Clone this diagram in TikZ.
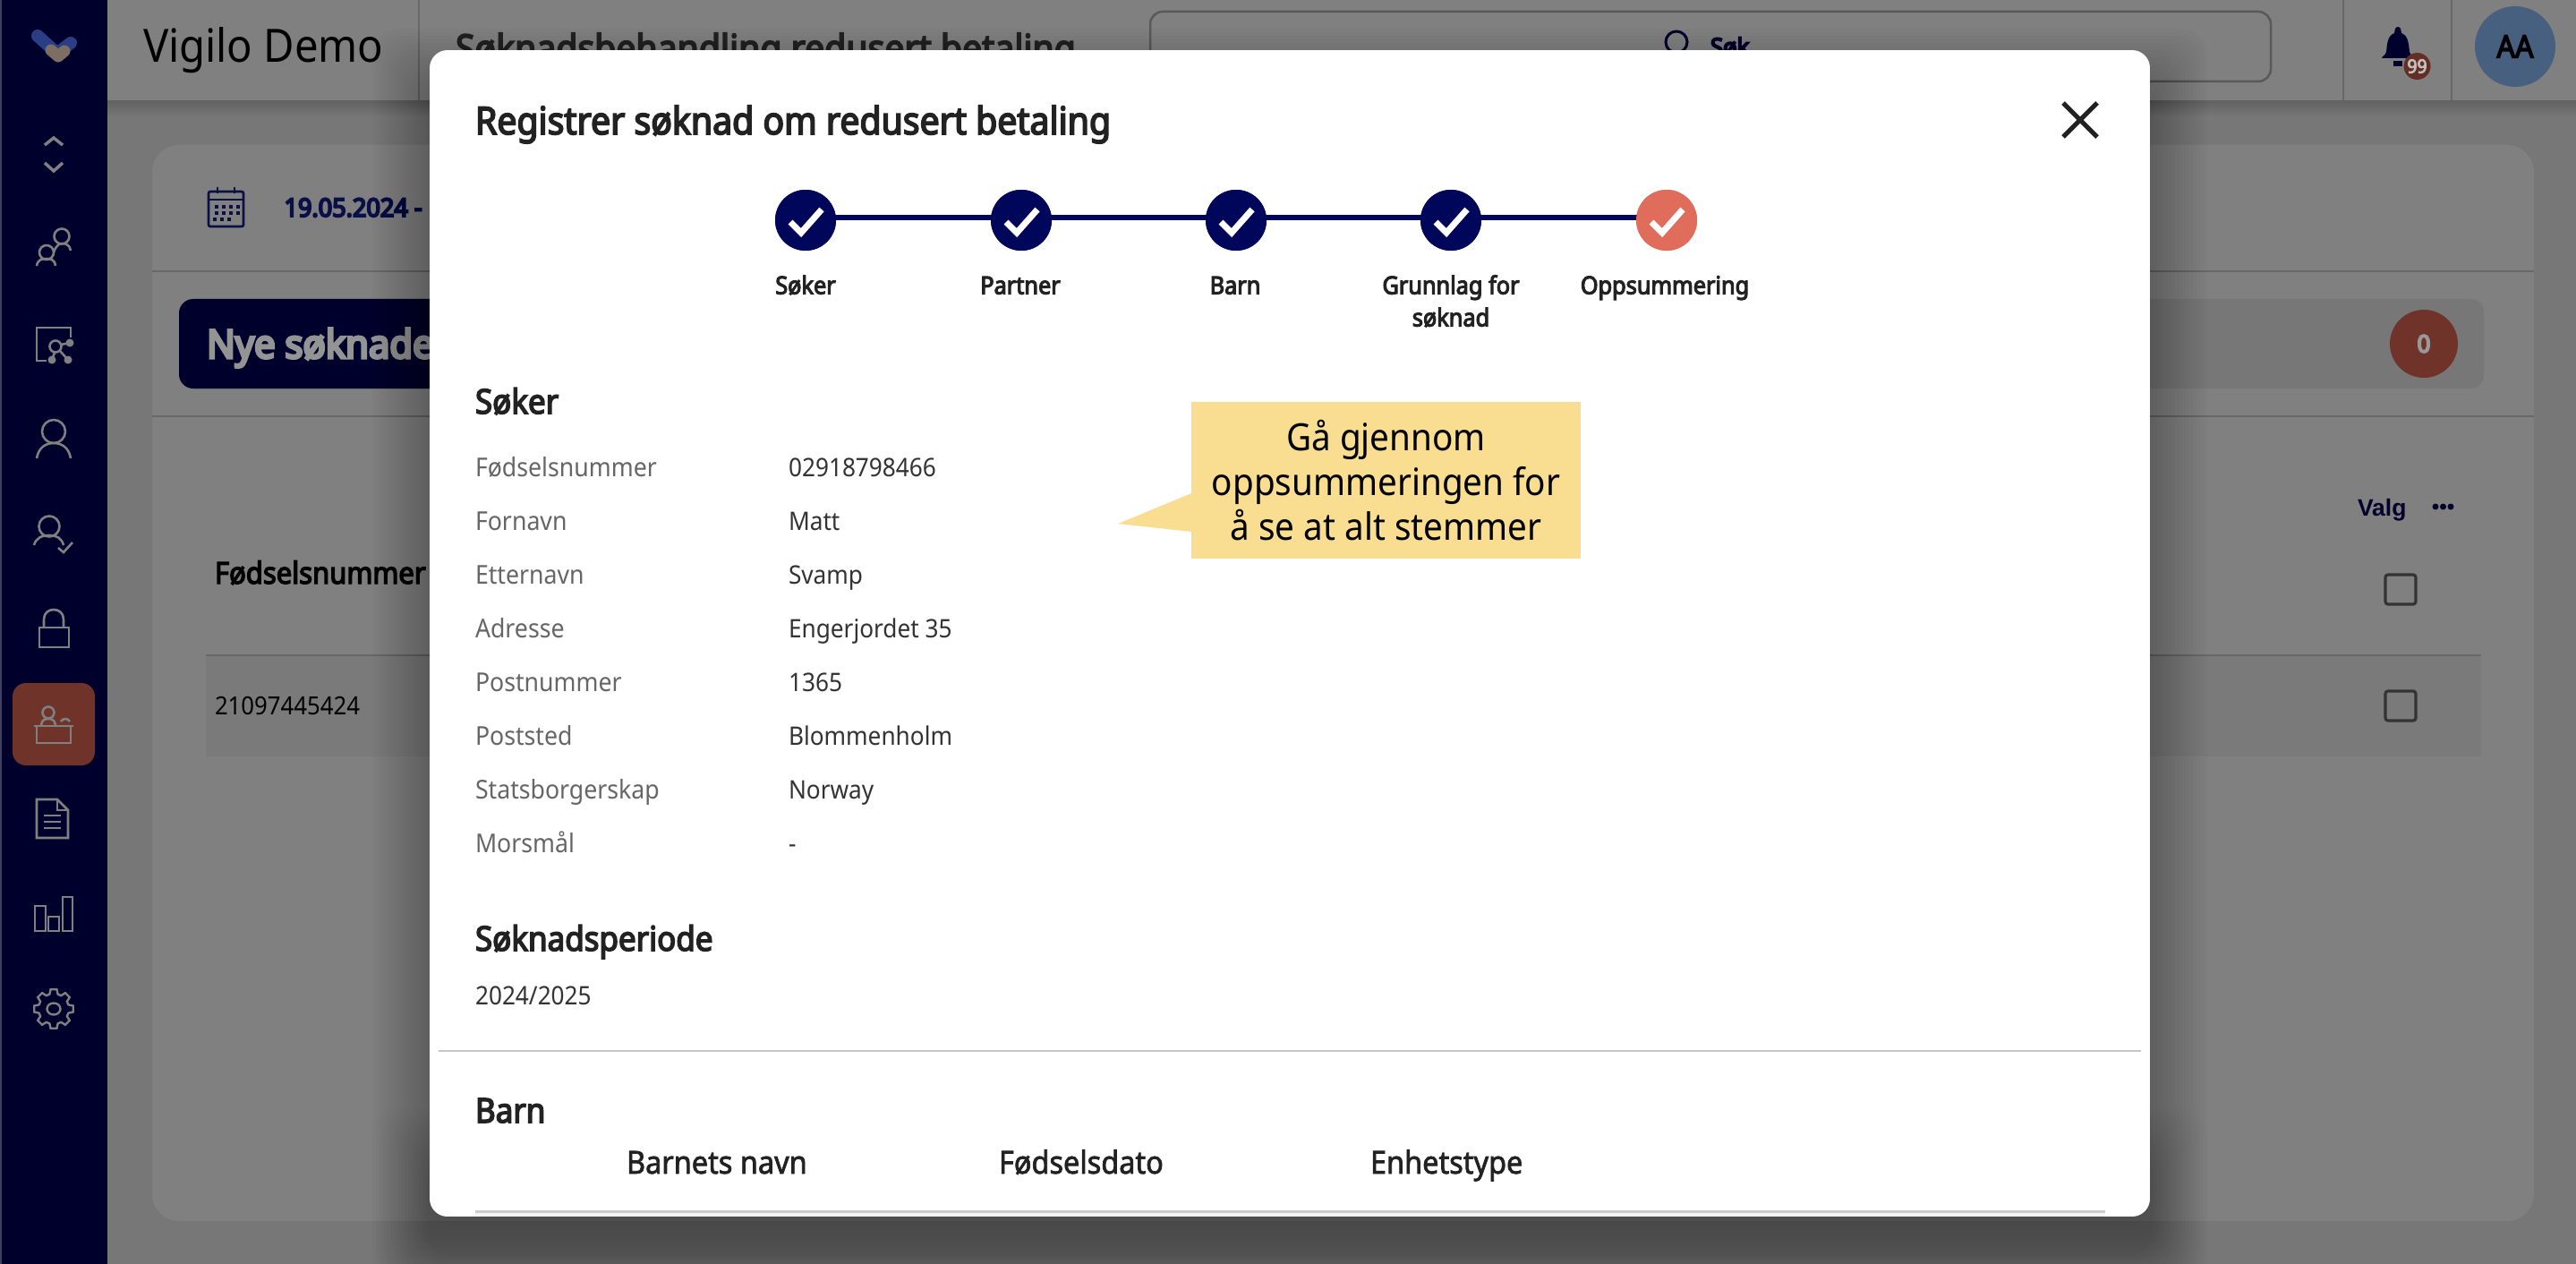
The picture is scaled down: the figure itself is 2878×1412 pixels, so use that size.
\documentclass[tikz,border=0pt]{standalone}
\usepackage{fontspec}
\setmainfont[FakeStretch=0.92]{Noto Sans}
\newfontfamily\medw[FakeStretch=0.92,FakeBold=2]{Noto Sans}
\newfontfamily\semi[FakeStretch=0.92,FakeBold=4]{Noto Sans}
\newfontfamily\heavy[FakeStretch=0.95,FakeBold=7]{Noto Sans}
\newfontfamily\arial{Liberation Sans}
\usetikzlibrary{calc}
\newcommand{\fs}[1]{\fontsize{#1}{#1}\selectfont}
\definecolor{pagebg}{HTML}{777777}
\definecolor{panelbg}{HTML}{808080}
\definecolor{side}{HTML}{00002C}
\definecolor{sidehi}{HTML}{6F3329}
\definecolor{icongrey}{HTML}{808080}
\definecolor{navy}{HTML}{00075A}
\definecolor{dimnavy}{HTML}{0A0F45}
\definecolor{coral}{HTML}{E06C5C}
\definecolor{note}{HTML}{F9DE92}
\definecolor{ink}{HTML}{222222}
\definecolor{lab}{HTML}{666666}
\definecolor{val}{HTML}{333333}
\definecolor{avatarblue}{HTML}{476080}
\definecolor{logoblue}{HTML}{2B3E85}
\definecolor{logobrown}{HTML}{7E6D63}
\definecolor{rule}{HTML}{686868}
\tikzset{
  x=1pt,y=-1pt,
  txt/.style={anchor=base west,inner sep=0pt,outer sep=0pt},
  ctxt/.style={anchor=base,inner sep=0pt,outer sep=0pt},
  icon/.style={draw=icongrey,line width=2.6pt,line cap=butt,line join=miter},
  stepdone/.style={circle,fill=navy,minimum size=68pt,inner sep=0pt},
  steplast/.style={circle,fill=coral,minimum size=68pt,inner sep=0pt},
  stepline/.style={draw=navy,line width=6pt},
  steplabel/.style={ctxt,font=\semi\fs{27.5},text=ink},
  tick/.style={draw=white,line width=7pt,line join=miter},
  rowlab/.style={txt,font=\fs{29},text=lab},
  rowval/.style={txt,font=\fs{28.5},text=val},
  heading/.style={txt,font=\semi\fs{38},text=ink},
  thead/.style={txt,font=\medw\fs{35.3},text=ink},
  checkbox/.style={draw=val,line width=3.2pt,rounded corners=3pt}
}
\begin{document}
\begin{tikzpicture}
\useasboundingbox (0,0) rectangle (2878,1412);
% page
\fill[pagebg] (0,0) rectangle (2878,1412);
\shade[top color=black!18!pagebg,bottom color=pagebg] (120,112) rectangle (2878,130);
\fill[panelbg,rounded corners=30pt] (170,162) rectangle (2831,1364);
\fill[panelbg] (120,0) rectangle (2878,112);
\draw[rule,line width=1.5pt] (468,0) -- (468,112) (2618,0) -- (2618,112) (2739,0) -- (2739,112);
\node[txt,font=\fs{51.3},text=black] (brand) at (160,70) {Vigilo Demo};
\node[txt,font=\semi\fs{42.6},text=ink] (pagetitle) at (509,69) {Søknadsbehandling redusert betaling};
% search
\draw[black!65,line width=2.5pt,rounded corners=14pt] (1285,13) rectangle (2537,91);
\draw[side,line width=3pt] (1873,47) circle[radius=12pt];
\node[txt,font=\heavy\fs{27},text=side] (search) at (1911,62) {Søk};
% bell
\fill[side] (2679,30) .. controls (2676,30) and (2675,34) .. (2675,37) .. controls (2667,40) and (2667,50) .. (2666,58) .. controls (2665,62) and (2661,63) .. (2661,65) -- (2697,65) .. controls (2697,63) and (2693,62) .. (2692,58) .. controls (2691,50) and (2691,40) .. (2683,37) .. controls (2683,34) and (2682,30) .. (2679,30) -- cycle;
\fill[side] (2674,68) rectangle (2684,74);
\node[circle,fill=sidehi!90!black,minimum size=30pt,inner sep=0pt,font=\semi\fs{21},text=black!25] (bellbadge) at (2700.5,74) {99};
\node[circle,fill=avatarblue,minimum size=90pt,inner sep=0pt,font=\semi\fs{35},text=black] (avatar) at (2810,52) {AA};
% panel content
\draw[rule,line width=2pt] (170,303) -- (2831,303) (170,465) -- (2831,465);
\node[txt,font=\heavy\fs{28.5},text=dimnavy] (date) at (317.5,242) {19.05.2024 -};
\draw[dimnavy,line width=2.6pt,rounded corners=2pt] (233,214) rectangle (272,253);
\draw[dimnavy,line width=2.6pt] (233,223) -- (272,223) (243,209) -- (243,216) (262,209) -- (262,216);
\foreach \cx in {242,250,258,266}{\fill[dimnavy] (\cx-2,229) rectangle (\cx+2,233);\fill[dimnavy] (\cx-2,236) rectangle (\cx+2,240);}
\foreach \cx in {240,248,256}{\fill[dimnavy] (\cx-2,243) rectangle (\cx+2,247);}
% tab bar
\fill[black!7!panelbg,rounded corners=14pt] (200,334) rectangle (2775,434);
\fill[side,rounded corners=16pt] (200,334) rectangle (700,434);
\node[txt,font=\heavy\fs{44},text=black!42] (tab) at (231,400) {Nye søknader};
\node[circle,fill=sidehi,minimum size=76pt,inner sep=0pt,font=\heavy\fs{27},text=black!40] (zero) at (2708,384) {0};
% table
\node[txt,font=\semi\fs{33.7},text=black] (colhead) at (240,652) {Fødselsnummer};
\fill[black!5!panelbg] (230,732) rectangle (2772,845);
\draw[rule,line width=1.5pt] (230,732) -- (2772,732);
\node[txt,font=\fs{28},text=black] (fnr) at (240,798) {21097445424};
\node[txt,font=\arial\bfseries\fs{26.5},text=side] (valg) at (2634,576) {Valg};
\foreach \dx in {2721,2729.5,2738}{\fill[side] (\dx,566) circle[radius=3.5pt];}
\draw[checkbox] (2665,642) rectangle (2699,675);
\draw[checkbox] (2665,772) rectangle (2699,805);
% sidebar
\fill[side] (0,0) rectangle (120,1412);
\fill[side!75!white] (0,0) rectangle (2,1412);
\fill[sidehi,rounded corners=15pt] (14,763) rectangle (106,855);
% logo
\draw[line width=14pt,line cap=round,draw=logoblue] (42,40) -- (62,58);
\draw[line width=14pt,line cap=round,draw=logoblue] (79,48) -- (66,58);
\draw[line width=13pt,line cap=round,line join=round,draw=logobrown] (57,56) -- (65,63) -- (72,57);
% chevrons
\draw[icon,line width=3.5pt] (50,162) -- (60,154) -- (70,162);
\draw[icon,line width=3.5pt] (50,182) -- (60,191) -- (70,182);
% people
\draw[icon] (69,264) circle[radius=8.5pt] (52,282) circle[radius=8pt];
\draw[icon] (41,297) .. controls (42,290) and (47,289) .. (52,289) .. controls (57,289) and (61,290) .. (62,297);
\draw[icon] (60,282) .. controls (63,273) and (67,272) .. (70,272) .. controls (74,272) and (78,274) .. (79,280);
% presentation
\draw[icon] (79,377) -- (79,366) -- (41,366) -- (41,403) -- (52,403);
\draw[icon] (62,387) circle[radius=6.5pt];
\draw[icon] (68,385) -- (78,383) (61,394) -- (58,402) (67,392) -- (76,402);
\fill[icongrey] (78,383) circle[radius=4.5pt] (58,402) circle[radius=4.5pt] (76,402) circle[radius=4.5pt];
% person
\draw[icon] (60,482) circle[radius=13pt];
\draw[icon] (41,512) .. controls (43,500) and (51,495) .. (60,495) .. controls (69,495) and (77,500) .. (79,512);
% person check
\draw[icon] (55,588) circle[radius=11.5pt];
\draw[icon] (38,609) .. controls (40,601) and (47,598) .. (55,598) .. controls (63,598) and (69,601) .. (71,609);
\draw[icon] (65,612) -- (71,617) -- (81,606);
% lock
\draw[icon] (49,701) -- (49,692) .. controls (49,685) and (54,681) .. (60,681) .. controls (66,681) and (71,685) .. (71,692) -- (71,701);
\draw[icon] (44,701) rectangle (77,723);
% desk
\draw[icon] (54,796) circle[radius=6.5pt];
\draw[icon] (46,810) .. controls (47,804) and (50,803) .. (54,803) .. controls (58,803) and (61,804) .. (62,810);
\draw[icon] (68,806) .. controls (70,802) and (76,802) .. (78,806);
\draw[icon] (38,811) -- (82,811) (41,811) -- (41,830) -- (79,830) -- (79,811);
% document
\draw[icon] (41,893) -- (64,893) -- (76,905) -- (76,936) -- (41,936) -- cycle;
\draw[icon,line width=2pt] (64,893) -- (64,905) -- (76,905);
\draw[icon,line width=2pt] (49,911) -- (68,911) (49,918) -- (68,918) (49,925) -- (68,925);
% bars
\draw[icon] (39,1012) rectangle (51,1040) (54,1024) rectangle (66,1040) (70,1002) rectangle (81,1040);
% gear
\draw[icon,line width=2.4pt,shift={(60,1127)}] (-9:22pt) foreach \a in {0,45,...,315} {-- (\a-9:22pt) -- (\a+9:22pt) -- (\a+16:17pt) -- (\a+29:17pt)} -- cycle;
\draw[icon,line width=2.4pt] (60,1127) ellipse[x radius=7.5pt,y radius=6.5pt];
% modal shadow
\foreach \e in {4,8,...,64}{\fill[black,opacity=.014,rounded corners=30pt] (480-\e,96-\e) rectangle (2402+\e,1399+\e);}
\foreach \e in {4,8,...,64}{\fill[black,opacity=.007,rounded corners=30pt] (480-\e,1300-\e) rectangle (2402+\e,1359+\e);}
% modal
\begin{scope}
\path[clip,rounded corners=20pt] (480,56) rectangle (2402,1359);
\fill[white] (480,56) rectangle (2402,1359);
\fill[black!4] (531,1353) rectangle (2352,1359);
\fill[black!20] (531,1352) rectangle (2352,1355);
\end{scope}
\node[txt,font=\semi\fs{42.6},text=ink] (title) at (531,150) {Registrer søknad om redusert betaling};
\draw[ink,line width=5pt] (2305,115) -- (2343,153) (2343,115) -- (2305,153);
% stepper
\node[stepdone] (s1) at (900,246) {};
\node[stepdone] (s2) at (1141,246) {};
\node[stepdone] (s3) at (1381,246) {};
\node[stepdone] (s4) at (1621,246) {};
\node[steplast] (s5) at (1862,246) {};
\foreach \p/\q in {s1/s2,s2/s3,s3/s4,s4/s5}{\draw[stepline] ($(\p.center)+(0,-3)$) -- ($(\q.center)+(0,-3)$);}
\foreach \n in {s1,s2,s3,s4}{\fill[navy] (\n) circle[radius=34pt];}
\fill[coral] (s5) circle[radius=34pt];
\foreach \n in {s1,s2,s3,s4,s5}{\draw[tick] ($(\n.center)+(-17,2)$) -- ($(\n.center)+(-5,14)$) -- ($(\n.center)+(18,-12)$);}
\node[steplabel] (l1) at (900,328.5) {Søker};
\node[steplabel] (l2) at (1140,328.5) {Partner};
\node[steplabel] (l3) at (1380,328.5) {Barn};
\node[steplabel] (l4) at (1621,328.5) {Grunnlag for};
\node[steplabel] (l4b) at (1621,364.5) {søknad};
\node[steplabel] (l5) at (1860,328.5) {Oppsummering};
% applicant
\node[heading] (hsoker) at (531,462) {Søker};
\foreach \l/\v [count=\i from 0] in {Fødselsnummer/02918798466,Fornavn/Matt,Etternavn/Svamp,Adresse/Engerjordet 35,Postnummer/1365,Poststed/Blommenholm,Statsborgerskap/Norway,Morsmål/-}{
  \node[rowlab] (rl\i) at (531,532+60*\i) {\l};
  \node[rowval] (rv\i) at (881,532+60*\i) {\v};
}
\node[heading] (hperiod) at (531,1062) {Søknadsperiode};
\node[rowval] (period) at (531,1122) {2024/2025};
\draw[black!22,line width=2pt] (490,1174) -- (2392,1174);
\node[heading] (hbarn) at (531,1254) {Barn};
\node[thead] (t1) at (700,1311) {Barnets navn};
\node[thead] (t2) at (1116,1311) {Fødselsdato};
\node[thead] (t3) at (1531,1311) {Enhetstype};
% callout
\fill[note] (1249,585) -- (1335,549.5) -- (1335,594.4) -- cycle;
\node[fill=note,minimum width=435pt,minimum height=175pt,inner sep=0pt,align=center,font=\fontsize{42}{50}\selectfont,text=black] (callout) at (1548.5,536.5) {\raisebox{1pt}{Gå gjennom}\\\raisebox{1pt}{oppsummeringen for}\\\raisebox{1pt}{å se at alt stemmer}};
\end{tikzpicture}
\end{document}
